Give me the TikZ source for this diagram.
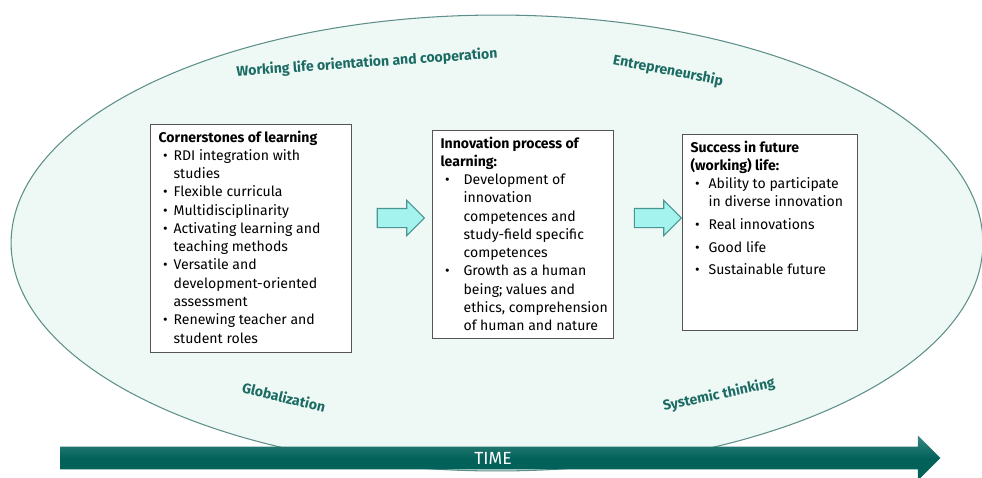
\documentclass[tikz,border=0pt]{standalone}
\usepackage{fontspec}
\setmainfont{Fira Sans}
\usetikzlibrary{shapes.arrows}

\definecolor{ringfill}{HTML}{EEF9F6}
\definecolor{ringline}{HTML}{5E8F89}
\definecolor{ringtext}{HTML}{1B6B63}
\definecolor{stepfill}{HTML}{A5F3EE}
\definecolor{stepline}{HTML}{4A9590}
\definecolor{timedark}{HTML}{02625A}
\definecolor{timelight}{HTML}{3B8780}
\definecolor{boxline}{HTML}{555555}

% bullet line with hanging indent
\newcommand\bitem[2]{\par\noindent\hangindent=#1\hangafter=1\makebox[#1][l]{\hspace{2.5pt}\textbullet}#2}
\newcommand\boxfont{\fontsize{8}{10.4}\selectfont}

\begin{document}
\begin{tikzpicture}[
		x={(0.02cm,0cm)},
		y={(0cm,-0.02cm)},
		stagebox/.style={draw=boxline,line width=0.7pt,fill=white,anchor=north west,inner xsep=0.16cm,inner ysep=0.12cm},
		ringlabel/.style={text=ringtext,font=\bfseries\fontsize{8}{9.5}\selectfont},
		steparrow/.style={single arrow,draw=stepline,fill=stepfill,line width=0.6pt,inner xsep=0pt,inner ysep=0.18cm,single arrow head extend=0.16cm,minimum height=0.94cm},
	]
		\useasboundingbox (0,0) rectangle (982,477);
		
		% the ring
		\draw[draw=ringline,fill=ringfill,line width=0.6pt] (497,243) ellipse [x radius=9.72cm,y radius=4.56cm];
		
		\foreach \px/\py/\ang/\txt [count=\i] in {367/63/4/Working life orientation and cooperation, 668/71/-11/Entrepreneurship, 284/397/-14/Globalization, 719/395/12/Systemic thinking}{
			\node[ringlabel,rotate=\ang] (ring\i) at (\px,\py) {\txt};
		}
		
		% the three stages
		\node[stagebox] (corner) at (150,124) {\parbox[c][4.32cm][t]{3.7cm}{\boxfont\raggedright
			\textbf{Cornerstones of learning}
			\bitem{0.3cm}{RDI integration with\newline studies}
			\bitem{0.3cm}{Flexible curricula}
			\bitem{0.3cm}{Multidisciplinarity}
			\bitem{0.3cm}{Activating learning and\newline teaching methods}
			\bitem{0.3cm}{Versatile and\newline development-oriented\newline assessment}
			\bitem{0.3cm}{Renewing teacher and\newline student roles}}};
		
		\node[stagebox] (innov) at (432,130) {\parbox[c][3.92cm][t]{3.3cm}{\boxfont\raggedright
			\textbf{Innovation process of\newline learning:}
			\bitem{0.46cm}{Development of\newline innovation\newline competences and\newline study-field specific\newline competences}
			\bitem{0.46cm}{Growth as a human\newline being; values and\newline \mbox{ethics, comprehension}\newline of human and nature}}};
		
		\node[stagebox] (success) at (682,134) {\parbox[c][3.68cm][t]{3.18cm}{\boxfont\raggedright
			\textbf{Success in future\newline (working) life:}
			\bitem{0.36cm}{Ability to participate\newline in diverse innovation}\par\vspace{2.5pt}
			\bitem{0.36cm}{Real innovations}\par\vspace{2.5pt}
			\bitem{0.36cm}{Good life}\par\vspace{2.5pt}
			\bitem{0.36cm}{Sustainable future}}};
		
		\node[steparrow] (step1) at (396,218) {};
		\node[steparrow] (step2) at (653,218) {};
		
		% time axis
		\node[single arrow,anchor=west,inner xsep=0pt,inner ysep=0.22cm,single arrow head extend=0.22cm,minimum height=17.6cm,top color=timelight,bottom color=timedark,middle color=timedark] (time) at (60,458) {};
		\node[text=white,font=\fontsize{10}{12}\selectfont] (timelbl) at (493,458) {TIME};
	\end{tikzpicture}
\end{document}
